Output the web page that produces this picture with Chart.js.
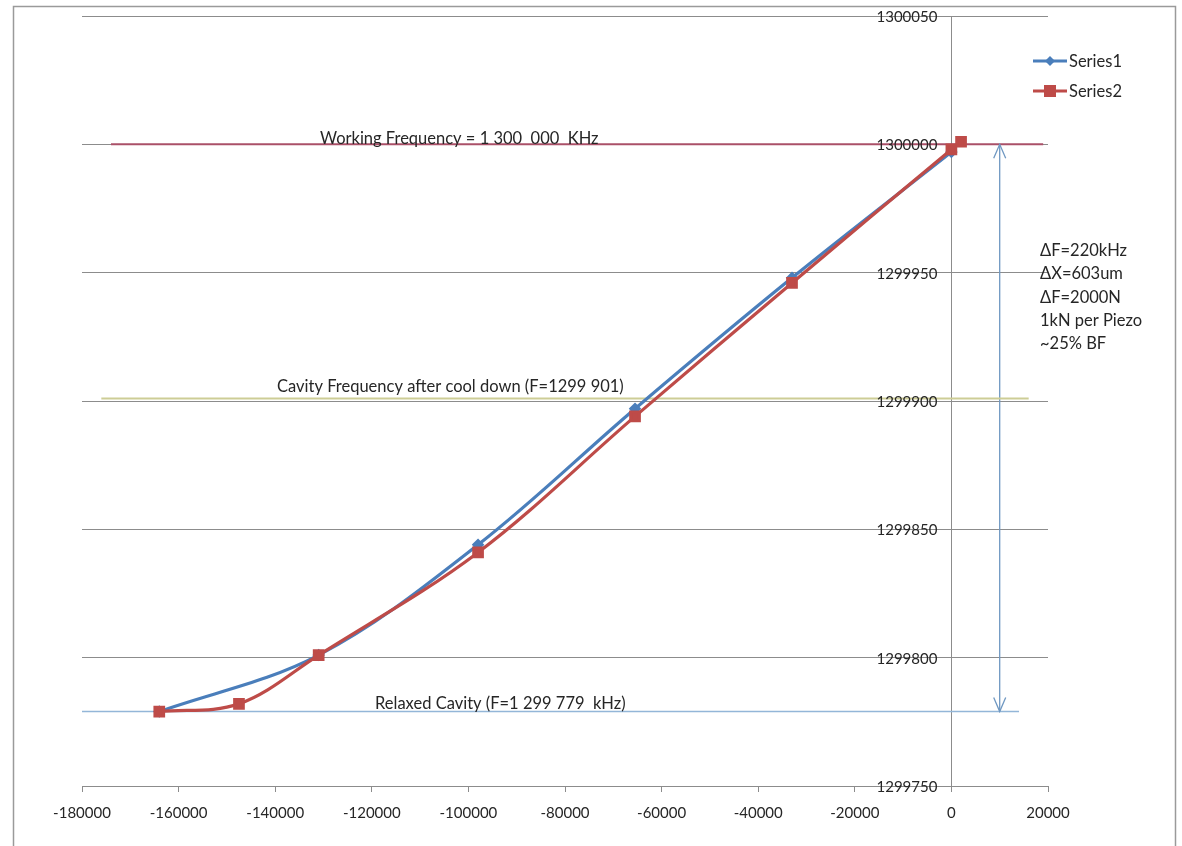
<!DOCTYPE html>
<html>
<head>
<meta charset="utf-8">
<title>Cavity tuning</title>
<script src="https://cdn.jsdelivr.net/npm/chart.js@4.4.1/dist/chart.umd.min.js"></script>
<style>
  html, body { margin: 0; padding: 0; background: #fff; }
  #wrap { width: 1182px; height: 846px; position: relative; }
</style>
</head>
<body>
<div id="wrap"><canvas id="chart"></canvas></div>
<script>
// --- measured points ---
const series1X = [-164000, -131000, -98000, -65500, -33000, 0];
const series1Y = [1299779, 1299801, 1299844, 1299897, 1299948, 1299997];
const series2X = [-164000, -147500, -131000, -98000, -65500, -33000, 0, 2000];
const series2Y = [1299779, 1299782, 1299801, 1299841, 1299894, 1299946, 1299998, 1300001];

// --- reference levels (kHz) and their extents along x ---
const workingFreq = 1300000;
const workingSpan = [-174000, 19000];
const cooledFreq = 1299901;
const cooledSpan = [-176000, 16000];
const relaxedFreq = 1299779;
const relaxedSpan = [-180000, 14000];
const arrowX = 10000;

// --- axes ---
const xMin = -180000, xMax = 20000, xStep = 20000;
const yMin = 1299750, yMax = 1300050, yStep = 50;

const noteLines = ['\u0394F=220kHz', '\u0394X=603um', '\u0394F=2000N', '1kN per Piezo', '~25% BF'];

const FONT = 'Lato, "Open Sans", sans-serif';
const TEXT = '#262626';
const BLUE = '#4a7ebb';
const RED = '#be4b48';

const pts = (xs, ys) => xs.map((x, i) => ({ x: x, y: ys[i] }));
const flat = (span, y) => span.map(x => ({ x: x, y: y }));

// frame, y tick labels, text notes, double arrow and legend
const extras = {
  id: 'extras',
  beforeDraw(chart) {
    const c = chart.ctx;
    c.save();
    c.fillStyle = '#fff';
    c.fillRect(0, 0, chart.width, chart.height);
    c.strokeStyle = '#9a9a9a';
    c.lineWidth = 1.5;
    c.strokeRect(13.5, 6.5, 1162, 860);
    c.restore();
  },
  afterDraw(chart) {
    const c = chart.ctx;
    const xs = chart.scales.x, ys = chart.scales.y;
    c.save();

    // y labels sit left of the axis that crosses at x = 0
    c.font = '15px ' + FONT;
    c.fillStyle = TEXT;
    c.textAlign = 'right';
    c.textBaseline = 'middle';
    const axisPx = xs.getPixelForValue(0);
    ys.ticks.forEach(t => c.fillText(String(t.value), axisPx - 14, ys.getPixelForValue(t.value) + 1));

    c.font = '16.5px ' + FONT;
    c.textBaseline = 'alphabetic';
    c.textAlign = 'left';
    c.fillText('Working Frequency = 1 300  000  KHz', 320, ys.getPixelForValue(workingFreq));
    c.fillText('Cavity Frequency after cool down (F=1299 901)', 277, ys.getPixelForValue(cooledFreq) - 6);
    c.fillText('Relaxed Cavity (F=1 299 779  kHz)', 375, ys.getPixelForValue(relaxedFreq) - 3);

    // delta notes
    let ny = 256;
    noteLines.forEach(t => { c.fillText(t, 1040, ny); ny += 23.3; });

    // arrow heads on the vertical span line
    const ax = xs.getPixelForValue(arrowX);
    const top = ys.getPixelForValue(workingFreq);
    const bot = ys.getPixelForValue(relaxedFreq);
    c.strokeStyle = '#6f98c2';
    c.lineWidth = 1.3;
    c.beginPath();
    c.moveTo(ax - 6, top + 14); c.lineTo(ax, top); c.lineTo(ax + 6, top + 14);
    c.moveTo(ax - 6, bot - 14); c.lineTo(ax, bot); c.lineTo(ax + 6, bot - 14);
    c.stroke();

    // legend
    const items = [
      { label: 'Series1', color: BLUE, y: 61, marker: 'diamond' },
      { label: 'Series2', color: RED, y: 91, marker: 'square' }
    ];
    items.forEach(it => {
      c.strokeStyle = it.color;
      c.lineWidth = 3;
      c.beginPath();
      c.moveTo(1033, it.y); c.lineTo(1067, it.y);
      c.stroke();
      c.fillStyle = it.color;
      if (it.marker === 'square') {
        c.fillRect(1044, it.y - 6, 12, 12);
      } else {
        c.beginPath();
        c.moveTo(1050, it.y - 5); c.lineTo(1055, it.y); c.lineTo(1050, it.y + 5); c.lineTo(1045, it.y);
        c.closePath(); c.fill();
      }
      c.fillStyle = TEXT;
      c.textBaseline = 'middle';
      c.fillText(it.label, 1069, it.y + 1);
    });
    c.restore();
  }
};

const refLine = (data, color, width, order) => ({
  data: data,
  showLine: true,
  borderColor: color,
  borderWidth: width,
  pointRadius: 0,
  tension: 0,
  order: order
});

new Chart(document.getElementById('chart'), {
  type: 'scatter',
  data: {
    datasets: [
      {
        label: 'Series1',
        data: pts(series1X, series1Y),
        showLine: true,
        borderColor: BLUE,
        backgroundColor: BLUE,
        borderWidth: 3.2,
        pointStyle: 'rectRot',
        pointRadius: 4,
        tension: 0.35,
        order: 1
      },
      {
        label: 'Series2',
        data: pts(series2X, series2Y),
        showLine: true,
        borderColor: RED,
        backgroundColor: RED,
        borderWidth: 3.2,
        pointStyle: 'rect',
        pointRadius: 6,
        tension: 0.35,
        order: 0
      },
      refLine(flat(workingSpan, workingFreq), '#aa5068', 2, 3),
      refLine(flat(cooledSpan, cooledFreq), '#cdcd96', 2, 3),
      refLine(flat(relaxedSpan, relaxedFreq), '#93b6d8', 1.5, 3),
      refLine([{ x: arrowX, y: workingFreq }, { x: arrowX, y: relaxedFreq }], '#6f98c2', 1.3, 3)
    ]
  },
  options: {
    responsive: true,
    maintainAspectRatio: false,
    animation: false,
    layout: { padding: { left: 82, right: 134, top: 16, bottom: 20 } },
    plugins: { legend: { display: false }, tooltip: { enabled: false } },
    scales: {
      x: {
        type: 'linear',
        min: xMin, max: xMax,
        afterFit(s) { s.height = 40; },
        ticks: {
          stepSize: xStep, padding: 12, color: TEXT, maxRotation: 0,
          font: { family: FONT, size: 15 },
          callback: v => String(v)
        },
        grid: { drawOnChartArea: false, drawTicks: true, tickLength: 6, color: '#8c8c8c' },
        border: { color: '#8c8c8c', width: 1 }
      },
      y: {
        type: 'linear',
        position: { x: 0 },
        min: yMin, max: yMax,
        ticks: { stepSize: yStep, display: false },
        grid: { drawTicks: false, color: '#8c8c8c', lineWidth: 1 },
        border: { color: '#8c8c8c', width: 1 }
      }
    }
  },
  plugins: [extras]
});
</script>
</body>
</html>
